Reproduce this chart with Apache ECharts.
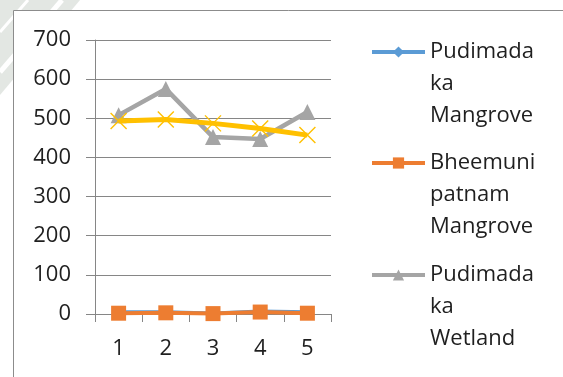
<!DOCTYPE html>
<html>
<head>
<meta charset="utf-8">
<script src="https://cdn.jsdelivr.net/npm/echarts@6/dist/echarts.min.js"></script>
<style>
  html, body { margin: 0; padding: 0; background: #ffffff; }
  #chart { width: 563px; height: 377px; }
</style>
</head>
<body>
<div id="chart"></div>
<script>
// Sample numbers along the x axis
const categories = ['1', '2', '3', '4', '5'];

// Series values
const pudimadaMangrove = [5, 5, 2, 7, 5];
const bheemunipatnamMangrove = [2, 3, 1, 5, 2];
const pudimadaWetland = [508, 575, 452, 447, 516];
const fourthSeries = [493, 497, 487, 474, 457];

// Legend labels (wrapped as in the key)
const legendNames = [
  'Pudimada ka Mangrove',
  'Bheemunipatnam Mangrove',
  'Pudimada ka Wetland'
];
const legendLines = {
  'Pudimada ka Mangrove': 'Pudimada\nka\nMangrove',
  'Bheemunipatnam Mangrove': 'Bheemuni\npatnam\nMangrove',
  'Pudimada ka Wetland': 'Pudimada\nka\nWetland'
};

const FONT = 'Open Sans, Liberation Sans, sans-serif';
const TEXT_COLOR = '#1f1f1f';
const LINE_H = 32;

const chart = echarts.init(document.getElementById('chart'), null, { renderer: 'canvas' });

// One legend block per entry; two blank lines above the label keep the
// icon level with the label's first line.
const legendTops = [52, 163, 275];
const legends = legendNames.map((n, i) => ({
  data: [n],
  orient: 'vertical',
  left: 370,
  top: legendTops[i] - (5 * LINE_H) / 2,
  itemWidth: 53,
  itemHeight: 14,
  itemGap: 0,
  padding: 0,
  selectedMode: false,
  lineStyle: { width: 4 },
  formatter: name => ' \n \n' + legendLines[name],
  textStyle: {
    fontFamily: FONT,
    fontSize: 22,
    color: TEXT_COLOR,
    lineHeight: LINE_H
  }
}));

chart.setOption({
  animation: false,
  backgroundColor: '#ffffff',
  graphic: [
    // page backdrop behind the frame corner
    {
      type: 'polygon',
      shape: { points: [[0, 0], [80, 0], [0, 95]] },
      style: { fill: '#e3e7e3' },
      silent: true
    },
    {
      type: 'line',
      shape: { x1: 62, y1: 0, x2: 0, y2: 72 },
      style: { stroke: '#ffffff', lineWidth: 5 },
      silent: true
    },
    {
      type: 'line',
      shape: { x1: 28, y1: 0, x2: 0, y2: 32 },
      style: { stroke: '#ffffff', lineWidth: 3 },
      silent: true
    },
    // chart area and its frame
    {
      type: 'rect',
      shape: { x: 13.5, y: 10.5, width: 600, height: 400 },
      style: { fill: '#ffffff', stroke: '#8c8c8c', lineWidth: 1 },
      silent: true
    }
  ],
  legend: legends,
  grid: { left: 95, right: 232, top: 40, bottom: 63 },
  xAxis: {
    type: 'category',
    data: categories,
    boundaryGap: true,
    axisLine: { show: true, lineStyle: { color: '#868686', width: 1 } },
    axisTick: { show: true, length: 8, lineStyle: { color: '#868686' } },
    axisLabel: { fontFamily: FONT, fontSize: 22, color: TEXT_COLOR, margin: 24 }
  },
  yAxis: {
    type: 'value',
    min: 0,
    max: 700,
    interval: 100,
    axisLine: { show: true, lineStyle: { color: '#868686', width: 1 } },
    axisTick: { show: true, length: 9, lineStyle: { color: '#868686' } },
    splitLine: { show: true, lineStyle: { color: '#868686', width: 1 } },
    axisLabel: { fontFamily: FONT, fontSize: 22, color: TEXT_COLOR, margin: 24 }
  },
  series: [
    {
      name: 'Pudimada ka Mangrove',
      type: 'line',
      data: pudimadaMangrove,
      symbol: 'diamond',
      symbolSize: 11,
      lineStyle: { color: '#5B9BD5', width: 3.5 },
      itemStyle: { color: '#5B9BD5' },
      z: 2
    },
    {
      name: 'Bheemunipatnam Mangrove',
      type: 'line',
      data: bheemunipatnamMangrove,
      symbol: 'rect',
      symbolSize: 15,
      lineStyle: { color: '#ED7D31', width: 4 },
      itemStyle: { color: '#ED7D31' },
      z: 3
    },
    {
      name: 'Pudimada ka Wetland',
      type: 'line',
      data: pudimadaWetland,
      symbol: 'triangle',
      symbolSize: 16,
      lineStyle: { color: '#A5A5A5', width: 4.5 },
      itemStyle: { color: '#A5A5A5' },
      z: 4
    },
    {
      name: 'Series 4',
      type: 'line',
      data: fourthSeries,
      symbol: 'path://M0,0 L10,10 M10,0 L0,10',
      symbolSize: 16,
      lineStyle: { color: '#FFC000', width: 5 },
      itemStyle: { color: 'none', borderColor: '#FFC000', borderWidth: 1.4 },
      z: 5
    }
  ]
});
</script>
</body>
</html>
